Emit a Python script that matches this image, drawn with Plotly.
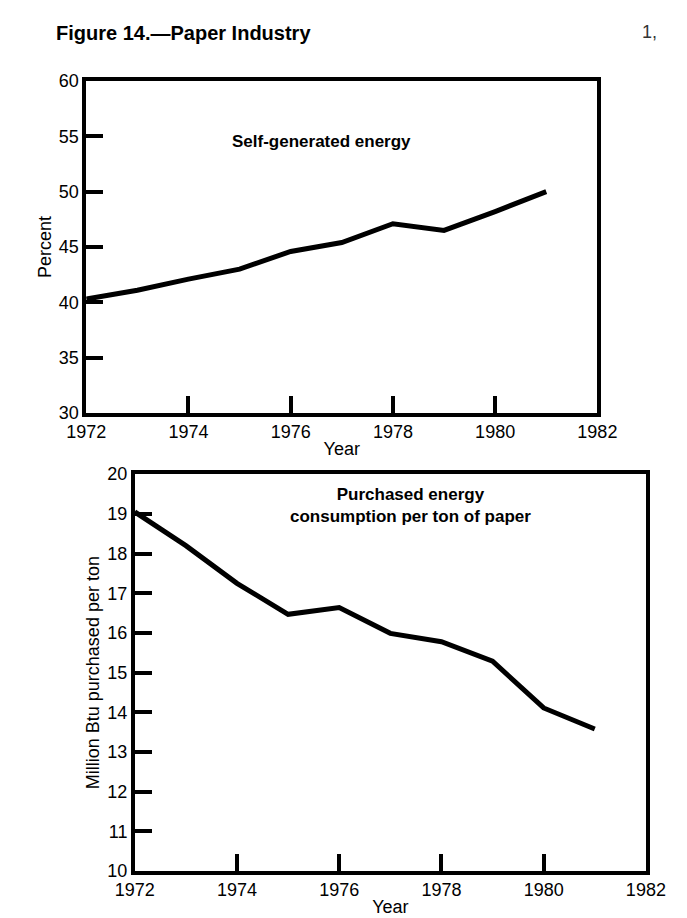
import plotly.graph_objects as go
from plotly.subplots import make_subplots

years = [1972, 1973, 1974, 1975, 1976, 1977, 1978, 1979, 1980, 1981]
self_generated_pct = [40.3, 41.1, 42.1, 43.0, 44.6, 45.4, 47.1, 46.5, 48.2, 50.0]
purchased_mbtu_per_ton = [19.05, 18.2, 17.25, 16.47, 16.64, 15.99, 15.78, 15.29, 14.11, 13.58]

x_ticks = [1972, 1974, 1976, 1978, 1980, 1982]
top_y_ticks = [30, 35, 40, 45, 50, 55, 60]
bottom_y_ticks = list(range(10, 21))

FONT = "Liberation Sans, Arial, sans-serif"

fig = make_subplots(rows=2, cols=1)

fig.add_trace(go.Scatter(x=years, y=self_generated_pct, mode="lines",
                         line=dict(color="black", width=5), showlegend=False), row=1, col=1)
fig.add_trace(go.Scatter(x=years, y=purchased_mbtu_per_ton, mode="lines",
                         line=dict(color="black", width=5), showlegend=False), row=2, col=1)

axis_common = dict(showgrid=False, zeroline=False, showline=True, linecolor="black",
                   linewidth=3.5, mirror=True, ticks="inside", ticklen=17, tickwidth=3.5,
                   tickcolor="black", tickfont=dict(family=FONT, size=18, color="black"))

fig.update_xaxes(**axis_common, range=[1972, 1982], tickvals=x_ticks,
                 title=dict(text="Year", font=dict(family=FONT, size=18, color="black"), standoff=2))
fig.update_yaxes(**axis_common)

fig.update_xaxes(domain=[0.09, 0.88], row=1, col=1)
fig.update_xaxes(domain=[0.165, 0.955], row=2, col=1)
fig.update_yaxes(domain=[0.56, 0.93], range=[30, 60], tickvals=top_y_ticks,
                 title=dict(text="Percent", font=dict(family=FONT, size=18, color="black"), standoff=4),
                 row=1, col=1)
fig.update_yaxes(domain=[0.05, 0.492], range=[10, 20], tickvals=bottom_y_ticks,
                 title=dict(text="Million Btu purchased per ton", font=dict(family=FONT, size=18, color="black"), standoff=4),
                 row=2, col=1)

fig.add_annotation(text="<b>Figure 14.—Paper Industry</b>", xref="paper", yref="paper",
                   x=0.04, y=0.998, xanchor="left", yanchor="top", showarrow=False,
                   font=dict(family=FONT, size=20, color="black"))
fig.add_annotation(text="1,", xref="paper", yref="paper", x=0.975, y=0.998,
                   xanchor="right", yanchor="top", showarrow=False,
                   font=dict(family=FONT, size=18, color="#333"))
fig.add_annotation(text="<b>Self-generated energy</b>", xref="x", yref="y",
                   x=1976.6, y=54.5, showarrow=False,
                   font=dict(family=FONT, size=17, color="black"))
fig.add_annotation(text="<b>Purchased energy<br>consumption per ton of paper</b>", xref="x2", yref="y2",
                   x=1977.4, y=19.2, showarrow=False,
                   font=dict(family=FONT, size=17, color="black"))

fig.update_layout(width=687, height=918, margin=dict(l=0, r=0, t=0, b=0),
                  paper_bgcolor="white", plot_bgcolor="white",
                  font=dict(family=FONT, color="black"))

fig.write_html("out.html")
